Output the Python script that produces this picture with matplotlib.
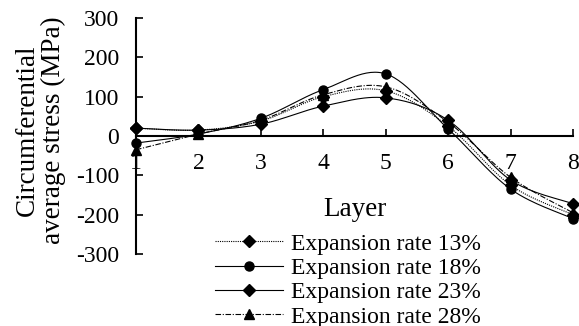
import numpy as np
import matplotlib
matplotlib.use("Agg")
import matplotlib.pyplot as plt
from matplotlib.lines import Line2D

plt.rcParams['font.family'] = ['Liberation Serif', 'DejaVu Serif']
plt.rcParams['axes.unicode_minus'] = False

layers = [1, 2, 3, 4, 5, 6, 7, 8]
rate13 = [20, 15, 38, 100, 115, 25, -125, -200]
rate18 = [-18, 5, 45, 118, 158, 18, -135, -210]
rate23 = [20, 15, 30, 76, 97, 40, -112, -172]
rate28 = [-35, 5, 40, 105, 125, 35, -105, -195]
labels = ['Expansion rate 13%', 'Expansion rate 18%', 'Expansion rate 23%', 'Expansion rate 28%']
yticks = [-300, -200, -100, 0, 100, 200, 300]


def smooth(x, y, n=30):
    x = np.asarray(x, float)
    y = np.asarray(y, float)
    px = np.concatenate([[x[0]], x, [x[-1]]])
    py = np.concatenate([[y[0]], y, [y[-1]]])
    xs, ys = [], []
    t = np.linspace(0, 1, n)
    for i in range(1, len(px) - 2):
        p0 = np.array([px[i - 1], py[i - 1]])
        p1 = np.array([px[i], py[i]])
        p2 = np.array([px[i + 1], py[i + 1]])
        p3 = np.array([px[i + 2], py[i + 2]])
        c1 = p1 + (p2 - p0) / 6
        c2 = p2 - (p3 - p1) / 6
        b = ((1 - t) ** 3)[:, None] * p1 + (3 * (1 - t) ** 2 * t)[:, None] * c1 \
            + (3 * (1 - t) * t ** 2)[:, None] * c2 + (t ** 3)[:, None] * p2
        xs.append(b[:, 0])
        ys.append(b[:, 1])
    return np.concatenate(xs), np.concatenate(ys)


fig = plt.figure(figsize=(5.79, 3.26), dpi=100)
ax = fig.add_axes([136 / 579, 1 - 254 / 326, (573 - 136) / 579, (254 - 18) / 326])

styles = [
    dict(ls=(0, (1, 1)), marker='D', ms=6),
    dict(ls='-', marker='o', ms=6.5),
    dict(ls='-', marker='D', ms=6),
    dict(ls=(0, (5, 1.5, 1, 1.5)), marker='^', ms=6.5),
]
series = [rate13, rate18, rate23, rate28]
handles = []
for vals, st, lab in zip(series, styles, labels):
    sx, sy = smooth(layers, vals)
    ax.plot(sx, sy, color='black', lw=0.8, ls=st['ls'], clip_on=False)
    ax.plot(layers, vals, ls='none', marker=st['marker'], ms=st['ms'], color='black', clip_on=False)
    handles.append(Line2D([], [], color='black', lw=0.8, ls=st['ls'], marker=st['marker'], ms=st['ms']))

ax.set_xlim(1, 8)
ax.set_ylim(-300, 300)
ax.set_yticks(yticks)
ax.set_xticks(layers)
ax.spines['top'].set_visible(False)
ax.spines['right'].set_visible(False)
ax.spines['bottom'].set_position(('data', 0))
ax.spines['left'].set_linewidth(1.5)
ax.spines['bottom'].set_linewidth(1.5)
ax.tick_params(axis='both', direction='in', length=5, width=1.2, labelsize=17, colors='black')
ax.tick_params(axis='x', pad=12)
ax.tick_params(axis='y', pad=12)

fig.text(40 / 579, 1 - 130 / 326, 'Circumferential\naverage stress (MPa)', rotation=90,
         ha='center', va='center', fontsize=19.5, linespacing=1.05)
ax.text(0.5, 0.19, 'Layer', transform=ax.transAxes, ha='center', va='center', fontsize=19.5)

fig.legend(handles=handles, labels=labels, loc='upper left', bbox_to_anchor=(215 / 579, 1 - 233 / 326),
           frameon=False, fontsize=17, handlelength=2.9, handletextpad=0.3, labelspacing=0.12,
           borderpad=0, borderaxespad=0)

fig.savefig('out.png', dpi=100)
